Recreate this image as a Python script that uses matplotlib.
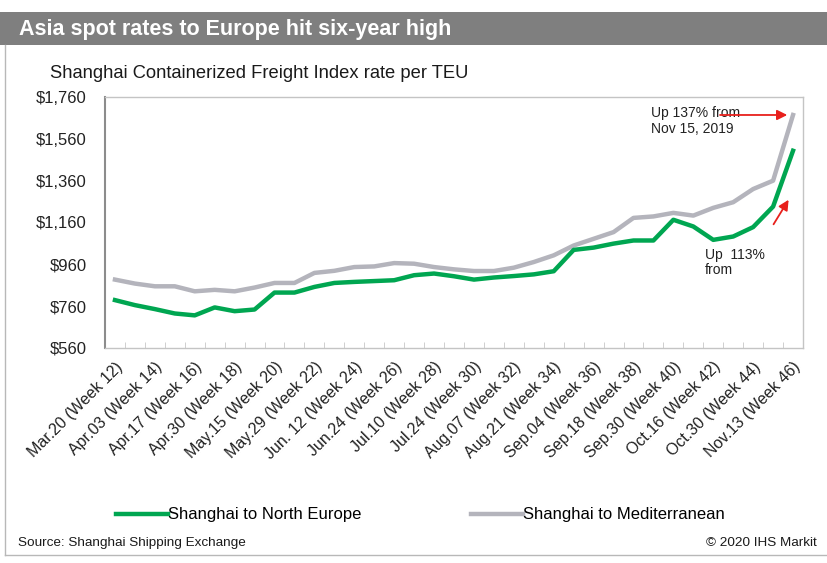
import matplotlib
matplotlib.use("Agg")
import matplotlib.pyplot as plt
from matplotlib.lines import Line2D
from matplotlib.patches import Rectangle

plt.rcParams['font.family'] = ['Liberation Sans', 'DejaVu Sans']

# Weekly observations, week 12 through week 46 of 2020
weeks = list(range(12, 47))
north_europe = [789, 765, 746, 725, 716, 754, 736, 744, 825, 825, 852, 871,
                876, 880, 884, 908, 916, 903, 887, 897, 904, 912, 927, 1029,
                1040, 1059, 1074, 1074, 1173, 1141, 1077, 1093, 1138, 1236, 1503]
mediterranean = [887, 868, 855, 855, 831, 838, 831, 849, 871, 871, 919, 929,
                 947, 950, 966, 963, 947, 936, 928, 928, 944, 971, 1003, 1050,
                 1082, 1114, 1182, 1189, 1206, 1193, 1230, 1257, 1320, 1360, 1674]

tick_labels = ["Mar.20 (Week 12)", "Apr.03 (Week 14)", "Apr.17 (Week 16)",
               "Apr.30 (Week 18)", "May.15 (Week 20)", "May.29 (Week 22)",
               "Jun. 12 (Week 24)", "Jun.24 (Week 26)", "Jul.10 (Week 28)",
               "Jul.24 (Week 30)", "Aug.07 (Week 32)", "Aug.21 (Week 34)",
               "Sep.04 (Week 36)", "Sep.18 (Week 38)", "Sep.30 (Week 40)",
               "Oct.16 (Week 42)", "Oct.30 (Week 44)", "Nov.13 (Week 46)"]
y_ticks = [560, 760, 960, 1160, 1360, 1560, 1760]

GREEN = '#00a651'
GREY = '#b4b4bc'
RED = '#e8201c'
TEXT = '#222222'

W, H = 827, 563
fig = plt.figure(figsize=(W / 100, H / 100), dpi=100)

def fx(px):
    return px / W

def fy(py):
    return 1 - py / H

# Header band with title
fig.add_artist(Rectangle((0, fy(45)), 1, fy(12) - fy(45), transform=fig.transFigure,
                         facecolor='#7f7f7f', edgecolor='none'))
fig.text(fx(19), fy(29), "Asia spot rates to Europe hit six-year high", color='white',
         fontsize=15.5, fontweight='bold', va='center', ha='left')

# Thin frame around the body
fig.add_artist(Line2D([fx(4.5), fx(4.5)], [fy(45), fy(555)], transform=fig.transFigure,
                      color='#b8b8b8', lw=1))
fig.add_artist(Line2D([fx(4.5), 1], [fy(555), fy(555)], transform=fig.transFigure,
                      color='#b8b8b8', lw=1))

fig.text(fx(50), fy(73), "Shanghai Containerized Freight Index rate per TEU",
         fontsize=13.2, va='center', ha='left', color='#1a1a1a')

ax = fig.add_axes([fx(105), fy(348), fx(803) - fx(105), fy(97) - fy(348)])
x = list(range(len(weeks)))
ln1, = ax.plot(x, north_europe, color=GREEN, lw=3.2, solid_joinstyle='round')
ln2, = ax.plot(x, mediterranean, color=GREY, lw=3.2, solid_joinstyle='round')
ln1.set_zorder(3)

ax.set_xlim(-0.5, len(weeks) - 0.5)
ax.set_ylim(560, 1760)
ax.set_yticks(y_ticks)
ax.set_yticklabels([f"${v:,}" for v in y_ticks], fontsize=12, color=TEXT)
ax.tick_params(axis='y', length=0, pad=13)

ax.set_xticks(x[::2])
ax.set_xticklabels(tick_labels, rotation=45, ha='right', va='top',
                   rotation_mode='anchor', fontsize=11.5, color=TEXT)
ax.set_xticks([i - 0.5 for i in range(len(weeks) + 1)], minor=True)
ax.tick_params(axis='x', which='major', length=0, pad=8)
ax.tick_params(axis='x', which='minor', length=4, color='#c8c8c8', direction='in')

for side in ('top', 'right', 'bottom'):
    ax.spines[side].set_color('#c4c4c4')
    ax.spines[side].set_linewidth(1)
ax.spines['left'].set_color('#8c8c8c')
ax.spines['left'].set_linewidth(1.5)

# Annotations
ax.text(26.9, 1717, "Up 137% from\nNov 15, 2019", fontsize=10, va='top', ha='left',
        color=TEXT, linespacing=1.15)
ax.annotate("", xy=(33.85, mediterranean[-1]), xytext=(30.2, mediterranean[-1]),
            arrowprops=dict(arrowstyle='-|>', color=RED, lw=1.3, mutation_scale=15))
ax.text(29.6, 1040, "Up  113%\nfrom", fontsize=10, va='top', ha='left',
        color=TEXT, linespacing=1.15)
ax.annotate("", xy=(33.85, 1280), xytext=(32.95, 1140),
            arrowprops=dict(arrowstyle='-|>', color=RED, lw=1.3, mutation_scale=15))

# Legend
fig.legend([ln1, ln2], ["Shanghai to North Europe", "Shanghai to Mediterranean"],
           loc='center left', bbox_to_anchor=(fx(116), fy(515)), ncol=2, frameon=False,
           borderpad=0, borderaxespad=0, handlelength=3.1, handletextpad=0.0,
           columnspacing=6.6, prop={'size': 12})

fig.text(fx(18), fy(543), "Source: Shanghai Shipping Exchange", fontsize=9.7,
         va='center', ha='left', color='#1a1a1a')
fig.text(fx(817), fy(543), "\u00a9 2020 IHS Markit", fontsize=9.7,
         va='center', ha='right', color='#1a1a1a')

fig.savefig("out.png", dpi=100, facecolor='white')
